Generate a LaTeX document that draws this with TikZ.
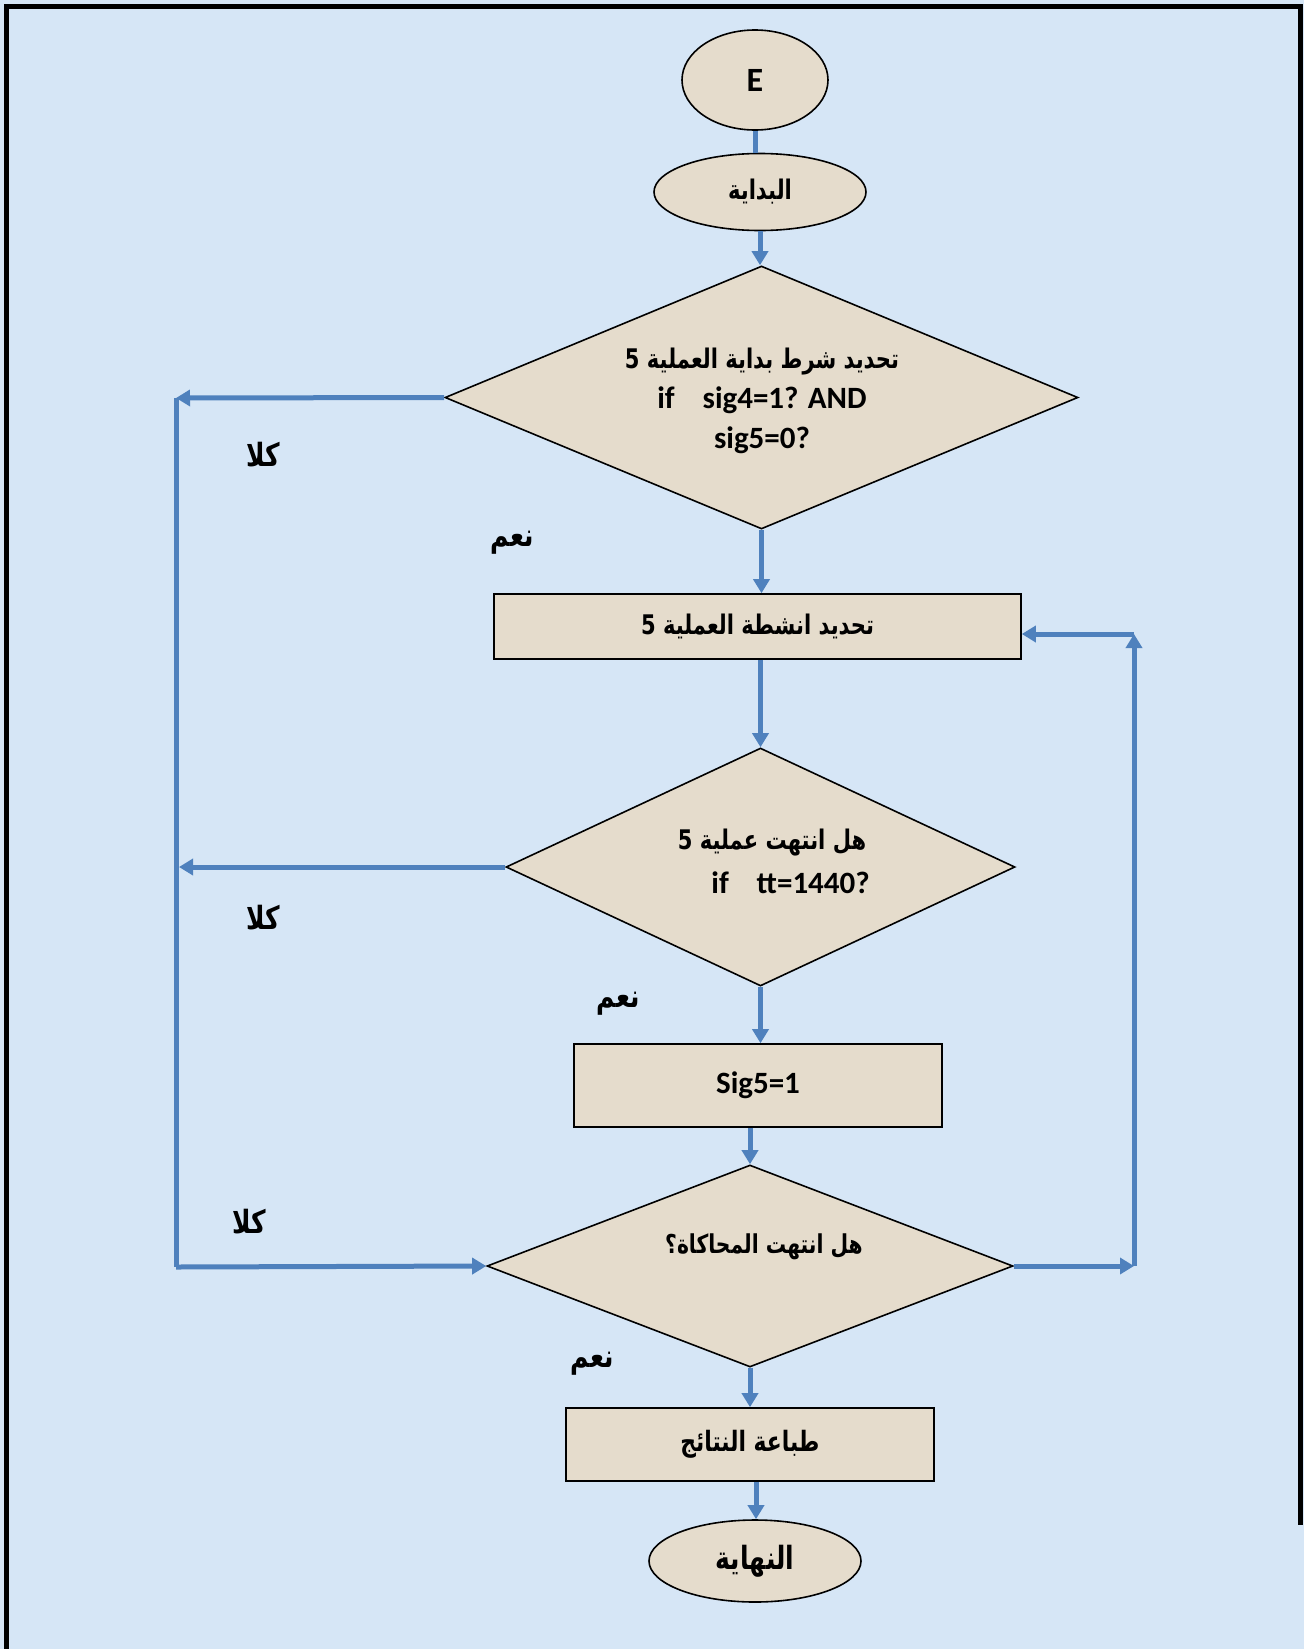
\documentclass[tikz,border=0pt]{standalone}
\usepackage{fontspec}
\setmainfont{Carlito}
\newfontfamily\arabicfont[Script=Arabic,FakeStretch=0.78]{DejaVu Sans}
\TeXXeTstate=1
\usetikzlibrary{shapes.geometric,arrows.meta}

\definecolor{pagebg}{RGB}{214,230,246}
\definecolor{shapefill}{RGB}{229,220,204}
\definecolor{flowblue}{RGB}{79,129,189}

% bold right-to-left Arabic run, optional size in pt
\newcommand{\artext}[2][27]{{\fontsize{#1}{#1}\selectfont\arabicfont\bfseries\beginR #2\endR}}

\begin{document}
\begin{tikzpicture}[x=1pt,y=-1pt,
  shapebase/.style={draw=black, line width=1.6pt, fill=shapefill, inner sep=0pt,
    font=\fontsize{31}{36}\selectfont\bfseries},
  oval/.style={shapebase, ellipse},
  procbox/.style={shapebase, rectangle},
  decision/.style={shapebase, diamond},
  txt/.style={inner sep=0pt, align=center, font=\fontsize{31}{40}\selectfont\bfseries},
  flow/.style={draw=flowblue, line width=5pt},
  flowarrow/.style={flow, -{Triangle[length=14pt,width=16pt]}},
  answer/.style={inner sep=0pt},
]
% page and frame
\useasboundingbox (0,0) rectangle (1304,1649);
\fill[pagebg] (0,0) rectangle (1304,1649);
\draw[line width=5pt] (6.5,1649) -- (6.5,6.5) -- (1300.5,6.5) -- (1300.5,1525);

% shapes
\node[oval, minimum width=146pt, minimum height=100pt,
      font=\fontsize{34}{36}\selectfont\bfseries] (E) at (755,80) {E};
\node[oval, minimum width=212pt, minimum height=77pt] (start) at (760,192) {\artext{البداية}};
\node[decision, minimum width=633pt, minimum height=263pt] (d1) at (761.5,397.5) {};
\node[txt] (d1t) at (762,401) {\artext{تحديد شرط بداية العملية 5}\\ if\hspace{0.9em}sig4=1? AND\\ sig5=0?};
\node[procbox, minimum width=527pt, minimum height=65pt] (b1) at (757.5,626.5) {\artext{تحديد انشطة العملية 5}};
\node[decision, minimum width=509pt, minimum height=238pt] (d2) at (760.5,867) {};
\node[txt] (d2t) at (772,861) {\artext{هل انتهت عملية 5}\\[4pt] \hspace{1.2em}if\hspace{0.9em}tt=1440?};
\node[procbox, minimum width=368pt, minimum height=83pt] (b2) at (758,1085.5) {Sig5=1};
\node[decision, minimum width=526pt, minimum height=202pt] (d3) at (750,1266) {};
\node[txt] (d3t) at (764,1247) {\artext[26]{هل انتهت المحاكاة؟}};
\node[procbox, minimum width=368pt, minimum height=73pt] (b3) at (750,1444.5) {\artext[28]{طباعة النتائج}};
\node[oval, minimum width=212pt, minimum height=82pt] (end) at (755,1561) {\artext[32]{النهاية}};

% branch corners
\coordinate (cL1) at (176,398);
\coordinate (cL3) at (176,1267);
\coordinate (cR3) at (1134,1266);
\coordinate (cR1) at (1134,634);

% main flow
\draw[flow] (E.south) -- (E.south |- start.north);
\draw[flowarrow] (start.south) -- (start.south |- d1.north);
\draw[flowarrow] (d1.south) -- (d1.south |- b1.north);
\draw[flowarrow] ([xshift=3pt]b1.south) -- (d2.north);
\draw[flowarrow] (d2.south) -- (d2.south |- b2.north);
\draw[flowarrow] (d3.north |- b2.south) -- (d3.north);
\draw[flowarrow] (d3.south) -- (d3.south |- b3.north);
\draw[flowarrow] ([xshift=6pt]b3.south) -- ([xshift=6pt]b3.south |- end.north);

% "no" branches on the left
\draw[flowarrow] (d1.west) -- (cL1);
\draw[flow] (cL1) -- (cL3);
\draw[flowarrow] (d2.west) -- ([xshift=3pt]d2.west -| cL1);
\draw[flowarrow] (cL3) -- (d3.west);

% loop back on the right
\draw[flowarrow] (d3.east) -- (cR3);
\draw[flowarrow] (cR3) -- (cR1);
\draw[flowarrow] (cR1) -- (b1.east |- cR1);

% answer labels
\node[answer] (no1) at (263,455) {\artext[32]{كلا}};
\node[answer] (yes1) at (512,543) {\artext[32]{نعم}};
\node[answer] (no2) at (263,918) {\artext[32]{كلا}};
\node[answer] (yes2) at (618,1004) {\artext[32]{نعم}};
\node[answer] (no3) at (249,1222) {\artext[32]{كلا}};
\node[answer] (yes3) at (592,1364) {\artext[32]{نعم}};
\end{tikzpicture}
\end{document}
